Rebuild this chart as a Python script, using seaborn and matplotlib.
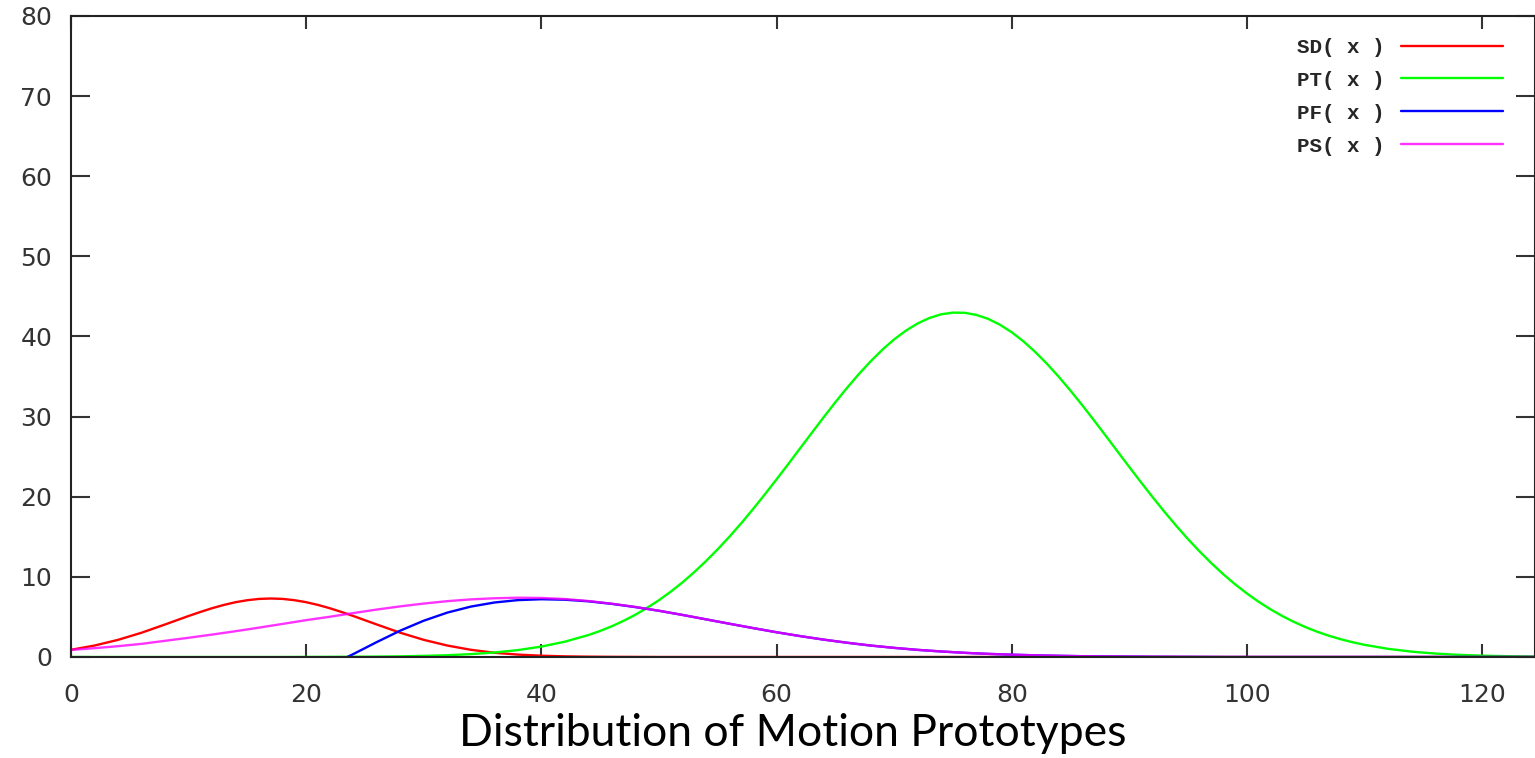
import matplotlib
matplotlib.use("Agg")
import matplotlib.pyplot as plt
from matplotlib.font_manager import FontProperties
import pandas as pd
import seaborn as sns

# ---------------- data ----------------
labels = ["SD( x )", "PT( x )", "PF( x )", "PS( x )"]
colors = ["#ff0000", "#00ff00", "#0000ff", "#ff00ff"]

x_full = list(range(0, 127, 2))                                   # 0 .. 126
x_pf = list(range(22, 127, 2))                                    # 22 .. 126
x_sd = list(range(0, 11, 2)) + list(range(11, 24)) + list(range(24, 127, 2))
x_pt = list(range(0, 44, 2)) + list(range(44, 110)) + list(range(110, 127, 2))

sd_vals = [0.90, 1.43, 2.14, 3.03, 4.06, 5.12,
           5.62, 6.09, 6.50, 6.84, 7.09, 7.25, 7.30, 7.25, 7.09, 6.84,
           6.50, 6.09, 5.62,
           5.12, 4.06, 3.03, 2.14, 1.43, 0.90, 0.53, 0.30,
           0.16, 0.08, 0.04, 0.02, 0.01,
           0, 0, 0, 0, 0, 0, 0, 0, 0, 0, 0, 0, 0, 0, 0, 0, 0, 0, 0, 0,
           0, 0, 0, 0, 0, 0, 0, 0, 0, 0, 0, 0, 0, 0, 0, 0, 0, 0, 0]

pt_vals = [0, 0, 0, 0, 0, 0, 0, 0, 0, 0,
           0.01, 0.02, 0.03, 0.05, 0.08, 0.14, 0.22, 0.36, 0.56, 0.86,
           1.30, 1.91,
           2.74, 3.25, 3.84, 4.52, 5.28, 6.14, 7.09, 8.15, 9.31, 10.59,
           11.97, 13.45, 15.03, 16.70, 18.46, 20.29, 22.17, 24.09, 26.04, 27.98,
           29.91, 31.79, 33.60, 35.31, 36.90, 38.35, 39.64, 40.73, 41.63, 42.31,
           42.77, 42.98, 42.96, 42.69, 42.20, 41.47, 40.53, 39.39, 38.07, 36.59,
           34.97, 33.24, 31.42, 29.53, 27.60, 25.65, 23.71, 21.79, 19.92, 18.10,
           16.36, 14.70, 13.14, 11.68, 10.32, 9.07, 7.93, 6.89, 5.96, 5.12,
           4.38, 3.72, 3.14, 2.64, 2.21, 1.84,
           1.52, 1.02, 0.67, 0.43, 0.27, 0.17, 0.10, 0.06, 0.03]

pf_vals = [-1.07, 0.36, 1.86, 3.29, 4.53, 5.54, 6.29, 6.80, 7.10, 7.21,
           7.15, 6.95, 6.63, 6.23,
           5.77, 5.25, 4.70, 4.15, 3.61, 3.09, 2.61, 2.17, 1.78, 1.43,
           1.14, 0.89, 0.69, 0.52, 0.39, 0.29, 0.21, 0.15, 0.10, 0.07,
           0.05, 0.03, 0.02, 0.01,
           0, 0, 0, 0, 0, 0, 0, 0, 0, 0, 0, 0, 0, 0, 0]

ps_vals = [0.89, 1.10, 1.35, 1.64, 2.02, 2.40, 2.80, 3.22, 3.67, 4.13,
           4.60, 5.02, 5.48, 5.92, 6.32, 6.67, 6.97, 7.19, 7.33, 7.40,
           7.37, 7.23, 6.99, 6.65, 6.24, 5.77, 5.25, 4.70, 4.15, 3.61,
           3.09, 2.61, 2.17, 1.78, 1.43, 1.14, 0.89, 0.69, 0.52, 0.39,
           0.29, 0.21, 0.15, 0.10, 0.07, 0.05, 0.03, 0.02, 0.01,
           0, 0, 0, 0, 0, 0, 0, 0, 0, 0, 0, 0, 0, 0, 0]

x_ticks = [0, 20, 40, 60, 80, 100, 120]
y_ticks = [0, 10, 20, 30, 40, 50, 60, 70, 80]
x_label = "Distribution of Motion Prototypes"

# ---------------- build long table ----------------
frames = []
for name, xs, ys in [(labels[0], x_sd, sd_vals), (labels[1], x_pt, pt_vals),
                     (labels[2], x_pf, pf_vals), (labels[3], x_full, ps_vals)]:
    frames.append(pd.DataFrame({"x": xs, "y": ys, "series": name}))
df = pd.concat(frames, ignore_index=True)

# ---------------- plot ----------------
sns.set_style("ticks")
plt.rcParams["font.family"] = ["DejaVu Sans"]

W, H = 1535, 758
fig = plt.figure(figsize=(W / 100, H / 100), dpi=100)
ax = fig.add_axes([71 / W, 1 - 657 / H, (1535 - 71) / W, (657 - 16) / H])

sns.lineplot(data=df, x="x", y="y", hue="series", hue_order=labels,
             palette=colors, estimator=None, sort=False, errorbar=None,
             linewidth=1.7, legend=False, ax=ax)
ax.lines[3].set_alpha(0.8)

ax.set_xlim(0, 124.5)
ax.set_ylim(0, 80)
ax.set_xticks(x_ticks)
ax.set_yticks(y_ticks)
ax.set_xlabel("")
ax.set_ylabel("")

for s in ax.spines.values():
    s.set_visible(True)
    s.set_linewidth(1.5)
    s.set_color("#222222")

ax.tick_params(axis="both", direction="in", top=True, right=True,
               width=1.5, color="#333333", labelcolor="#333333", labelsize=18)
ax.tick_params(axis="y", length=14, pad=13.5)
ax.tick_params(axis="x", length=9.5, pad=18.5)

handles = ax.lines[:4]
ax.legend(handles, labels, loc="upper right", bbox_to_anchor=(0.978, 0.966),
          frameon=False, markerfirst=False, handlelength=4.9,
          handletextpad=0.8, labelspacing=0.67, borderpad=0, borderaxespad=0,
          prop=FontProperties(family="Liberation Mono", size=15, weight="bold"))

fig.text(793 / W, 1 - 734 / H, x_label, ha="center", va="center",
         fontsize=32, family="Lato", color="black")

fig.savefig("out.png", dpi=100, facecolor="white")
